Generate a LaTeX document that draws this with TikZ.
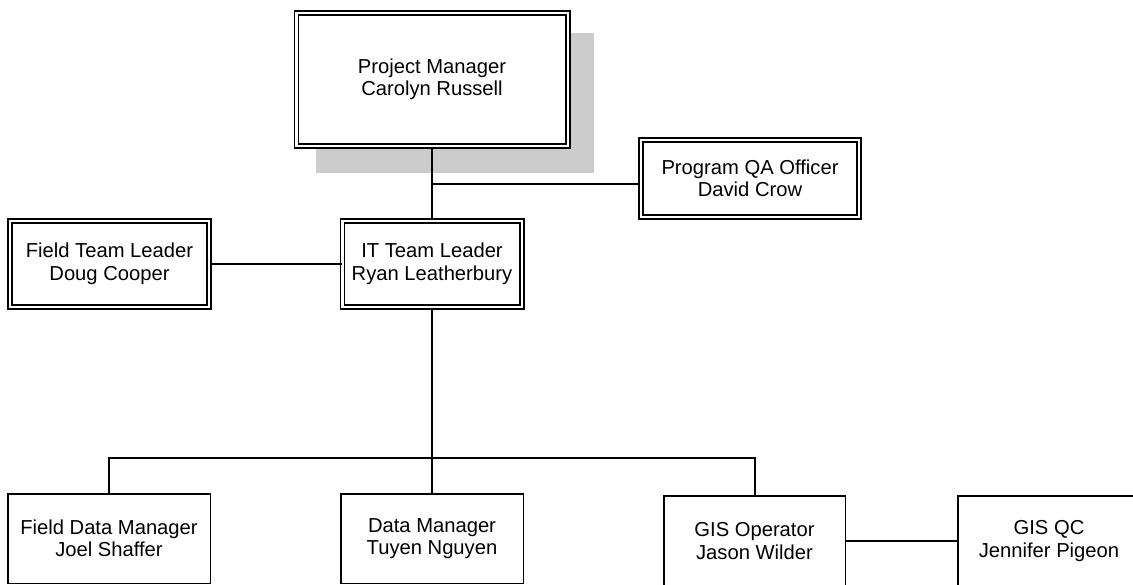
\documentclass[tikz,border=0pt]{standalone}
\usepackage{fontspec}
\setmainfont{Liberation Sans}
\definecolor{shadowgray}{RGB}{204,204,204}
\tikzset{
  dbox/.style={draw, double, double distance=2.4pt, line width=1.6pt,
    align=center, inner sep=0pt, font=\fontsize{20.2}{22.5}\selectfont},
  sbox/.style={draw, line width=1.5pt, align=center, inner sep=0pt,
    font=\fontsize{20.2}{22.5}\selectfont},
  conn/.style={line width=2pt}
}
\begin{document}
\begin{tikzpicture}[x=1pt,y=-1pt]
\useasboundingbox (0,0) rectangle (1133,585);
% shadow of the project manager box
\fill[shadowgray] (316,33) rectangle (594,173);
% double-bordered boxes
\node[dbox, fill=white, minimum width=271.4pt, minimum height=133.4pt] (PM) at (432,79.5) {Project Manager\\Carolyn Russell};
\node[dbox, minimum width=218.4pt, minimum height=77.4pt] (QA) at (750,178.5) {Program QA Officer\\David Crow};
\node[dbox, minimum width=199.4pt, minimum height=86.4pt] (FTL) at (109.5,264) {Field Team Leader\\Doug Cooper};
\node[dbox, minimum width=179.4pt, minimum height=86.4pt] (IT) at (432,264) {IT Team Leader\\Ryan Leatherbury};
% single-bordered boxes
\node[sbox, minimum width=202.5pt, minimum height=89.5pt] (FDM) at (109,538.5) {Field Data Manager\\Joel Shaffer};
\node[sbox, minimum width=182.5pt, minimum height=89.5pt] (DM) at (432,538.5) {Data Manager\\Tuyen Nguyen};
\node[sbox, minimum width=181.5pt, minimum height=90.5pt] (GIS) at (754.5,541) {GIS Operator\\Jason Wilder};
\node[sbox, minimum width=182.5pt, minimum height=90.5pt] (QC) at (1049,541) {GIS QC\\Jennifer Pigeon};
% connectors
\coordinate (qaj) at (432,184);
\coordinate (bus) at (432,458);
\draw[conn] (PM) -- (IT);
\draw[conn] (qaj) -- (qaj -| QA.west);
\draw[conn] (FTL) -- (IT);
\draw[conn] (IT) -- (bus);
\draw[conn] (FDM.north) -- (FDM.north |- bus) -- (GIS.north |- bus) -- (GIS.north);
\draw[conn] (bus) -- (DM.north);
\draw[conn] (GIS) -- (QC);
\end{tikzpicture}
\end{document}
